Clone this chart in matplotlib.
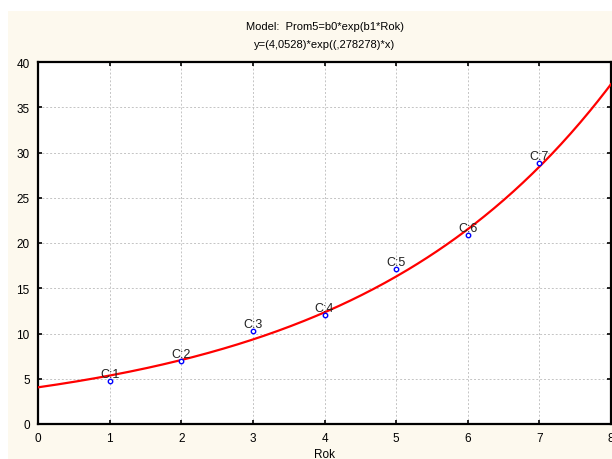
import numpy as np
import matplotlib
matplotlib.use("Agg")
import matplotlib.pyplot as plt
from matplotlib.patches import Rectangle

plt.rcParams['font.family'] = ['Liberation Sans', 'DejaVu Sans']

# data
rok = [1, 2, 3, 4, 5, 6, 7]
prom5 = [4.75, 6.93, 10.24, 12.04, 17.1, 20.85, 28.84]
labels = ["C:1", "C:2", "C:3", "C:4", "C:5", "C:6", "C:7"]
b0 = 4.0528
b1 = 0.278278

fig = plt.figure(figsize=(6.12, 4.6), dpi=100)
fig.patch.set_facecolor("white")
fig.patches.append(Rectangle((8/612, 0), 1, 1 - 12/460, transform=fig.transFigure,
                             facecolor="#fdf9ee", edgecolor="none", zorder=-10))

ax = fig.add_axes([38/612, 35/460, 573/612, 362/460])
ax.set_facecolor("white")

xx = np.linspace(0, 8, 300)
ax.plot(xx, b0*np.exp(b1*xx), color="red", lw=1.6, zorder=3)
ax.plot(rok, prom5, "o", ms=3.2, mfc="white", mec="blue", mew=1.0, zorder=4)
for x, y, t in zip(rok, prom5, labels):
    ax.annotate(t, (x, y), xytext=(0, 1), textcoords="offset points",
                ha="center", va="bottom", fontsize=9, color="#222222", zorder=5)

ax.set_xlim(0, 8)
ax.set_ylim(0, 40)
ax.set_xticks(range(0, 9))
ax.set_yticks(range(0, 41, 5))
ax.grid(True, ls=(0, (2, 2)), color="#c4c4c4", lw=0.7)
for s in ax.spines.values():
    s.set_linewidth(1.6)
ax.tick_params(direction="in", length=3, width=1.2, labelsize=8.5,
               top=True, right=True, pad=6)
ax.set_xlabel("Rok", fontsize=8.5, labelpad=3)
ax.set_title("Model:  Prom5=b0*exp(b1*Rok)\ny=(4,0528)*exp((,278278)*x)",
             fontsize=8, linespacing=1.95, pad=11)

fig.savefig("out.png", dpi=100, facecolor=fig.get_facecolor())
